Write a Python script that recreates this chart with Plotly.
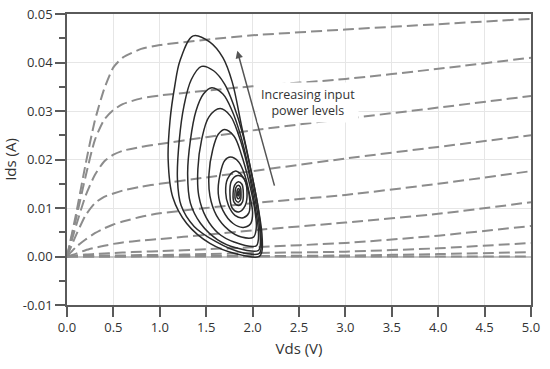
import plotly.graph_objects as go

# ---- I-V family (dashed gray) ----
vds = [0.0, 0.1, 0.2, 0.3, 0.4, 0.5, 0.6, 0.8, 1.0, 1.5, 2.0, 3.0, 4.0, 5.0]
iv_A = [0, 0.0090, 0.0190, 0.0280, 0.0345, 0.0390, 0.0410, 0.0428, 0.0436, 0.0447, 0.0456, 0.0468, 0.0479, 0.0490]
iv_B = [0, 0.0080, 0.0165, 0.0240, 0.0282, 0.0302, 0.0314, 0.0326, 0.0332, 0.0342, 0.0351, 0.0366, 0.0387, 0.0410]
iv_C = [0, 0.0065, 0.0125, 0.0168, 0.0196, 0.0210, 0.0218, 0.0226, 0.0232, 0.0246, 0.0260, 0.0284, 0.0307, 0.0331]
iv_D = [0, 0.0045, 0.0085, 0.0110, 0.0123, 0.0130, 0.0136, 0.0144, 0.0150, 0.0163, 0.0176, 0.0202, 0.0226, 0.0250]
iv_E = [0, 0.0020, 0.0035, 0.0048, 0.0058, 0.0066, 0.0072, 0.0082, 0.0089, 0.0100, 0.0110, 0.0127, 0.0150, 0.0176]
iv_F = [0, 0.0006, 0.0013, 0.0018, 0.0022, 0.0026, 0.0029, 0.0033, 0.0036, 0.0045, 0.0054, 0.0070, 0.0088, 0.0112]
iv_G = [0, 0.0002, 0.0004, 0.0005, 0.0006, 0.0007, 0.0008, 0.0010, 0.0011, 0.0015, 0.0019, 0.0028, 0.0043, 0.0063]
iv_H = [0, 0.0001, 0.0001, 0.0002, 0.0002, 0.0002, 0.0002, 0.0003, 0.0003, 0.0005, 0.0007, 0.0010, 0.0017, 0.0028]
iv_I = [0, 0.0000, 0.0000, 0.0000, 0.0000, 0.0000, 0.0000, 0.0001, 0.0001, 0.0001, 0.0001, 0.0002, 0.0005, 0.0009]
iv_J = [0, 0, 0, 0, 0, 0, 0, 0, 0, 0, 0, 0, 0, 0]
iv_curves = [iv_A, iv_B, iv_C, iv_D, iv_E, iv_F, iv_G, iv_H, iv_I, iv_J]

# ---- dynamic load loops (black) ----
loop1_x = [2.07, 1.83, 1.54, 1.29, 1.14, 1.09, 1.11, 1.16, 1.22, 1.36, 1.54, 1.68, 1.78, 1.88, 1.99, 2.06, 2.10, 2.10, 2.07]
loop1_y = [0.0000, 0.0005, 0.0027, 0.0068, 0.0122, 0.0200, 0.0280, 0.0350, 0.0405, 0.0455, 0.0442, 0.0410, 0.0360, 0.0270, 0.0171, 0.0101, 0.0048, 0.0010, 0.0000]
loop2_x = [2.07, 1.85, 1.61, 1.37, 1.23, 1.19, 1.21, 1.26, 1.34, 1.45, 1.58, 1.70, 1.80, 1.89, 1.99, 2.06, 2.09, 2.09, 2.07]
loop2_y = [0.0006, 0.0010, 0.0030, 0.0062, 0.0105, 0.0160, 0.0240, 0.0310, 0.0365, 0.0392, 0.0383, 0.0355, 0.0310, 0.0255, 0.0170, 0.0100, 0.0048, 0.0015, 0.0006]
loop3_x = [2.06, 1.82, 1.62, 1.44, 1.33, 1.30, 1.33, 1.39, 1.47, 1.56, 1.68, 1.78, 1.87, 1.96, 2.04, 2.08, 2.08, 2.06]
loop3_y = [0.0012, 0.0018, 0.0035, 0.0068, 0.0110, 0.0170, 0.0240, 0.0300, 0.0335, 0.0348, 0.0335, 0.0300, 0.0250, 0.0180, 0.0105, 0.0050, 0.0020, 0.0012]
loop4_x = [2.04, 1.80, 1.63, 1.50, 1.42, 1.41, 1.45, 1.53, 1.65, 1.76, 1.85, 1.94, 2.02, 2.06, 2.06, 2.04]
loop4_y = [0.0022, 0.0030, 0.0048, 0.0080, 0.0125, 0.0180, 0.0240, 0.0288, 0.0305, 0.0290, 0.0250, 0.0190, 0.0110, 0.0060, 0.0032, 0.0022]
loop5_x = [2.01, 1.88, 1.74, 1.61, 1.54, 1.53, 1.57, 1.63, 1.70, 1.80, 1.88, 1.96, 2.02, 2.04, 2.01]
loop5_y = [0.0040, 0.0040, 0.0055, 0.0085, 0.0125, 0.0170, 0.0220, 0.0252, 0.0262, 0.0248, 0.0210, 0.0155, 0.0100, 0.0060, 0.0040]
loop6_x = [1.98, 1.90, 1.79, 1.68, 1.63, 1.65, 1.70, 1.76, 1.85, 1.92, 1.97, 2.00, 1.98]
loop6_y = [0.0068, 0.0060, 0.0068, 0.0095, 0.0130, 0.0170, 0.0198, 0.0205, 0.0195, 0.0165, 0.0125, 0.0090, 0.0068]
loop7_x = [1.96, 1.90, 1.81, 1.74, 1.71, 1.73, 1.81, 1.88, 1.94, 1.97, 1.96]
loop7_y = [0.0090, 0.0080, 0.0085, 0.0105, 0.0132, 0.0160, 0.0176, 0.0168, 0.0145, 0.0115, 0.0090]
loop8_x = [1.85, 1.78, 1.756, 1.77, 1.84, 1.91, 1.94, 1.92, 1.85]
loop8_y = [0.0092, 0.0100, 0.0128, 0.0155, 0.0167, 0.0160, 0.0132, 0.0105, 0.0092]
loop9_x = [1.85, 1.80, 1.79, 1.81, 1.845, 1.885, 1.90, 1.89, 1.85]
loop9_y = [0.0105, 0.0112, 0.0130, 0.0148, 0.0154, 0.0149, 0.0130, 0.0112, 0.0105]
loop10_x = [1.845, 1.815, 1.81, 1.82, 1.845, 1.868, 1.875, 1.87, 1.845]
loop10_y = [0.0112, 0.0117, 0.0130, 0.0142, 0.0147, 0.0143, 0.0130, 0.0117, 0.0112]
loop11_x = [1.848, 1.832, 1.83, 1.835, 1.848, 1.86, 1.865, 1.862, 1.848]
loop11_y = [0.0119, 0.0122, 0.0130, 0.0137, 0.0140, 0.0137, 0.0130, 0.0122, 0.0119]
loop12_x = [1.846, 1.839, 1.838, 1.841, 1.847, 1.853, 1.855, 1.852, 1.846]
loop12_y = [0.0125, 0.0127, 0.0130, 0.0133, 0.0135, 0.0133, 0.0130, 0.0127, 0.0125]
loops = [(loop1_x, loop1_y), (loop2_x, loop2_y), (loop3_x, loop3_y), (loop4_x, loop4_y),
         (loop5_x, loop5_y), (loop6_x, loop6_y), (loop7_x, loop7_y), (loop8_x, loop8_y),
         (loop9_x, loop9_y), (loop10_x, loop10_y), (loop11_x, loop11_y), (loop12_x, loop12_y)]

x_ticks = [0, 0.5, 1.0, 1.5, 2.0, 2.5, 3.0, 3.5, 4.0, 4.5, 5.0]
x_labels = ["0.0", "0.5", "1.0", "1.5", "2.0", "2.5", "3.0", "3.5", "4.0", "4.5", "5.0"]
y_ticks = [-0.01, 0.0, 0.01, 0.02, 0.03, 0.04, 0.05]
y_labels = ["-0.01", "0.00", "0.01", "0.02", "0.03", "0.04", "0.05"]

arrow_tail = (2.24, 0.0143)
arrow_tip = (1.835, 0.0424)
label_pos = (2.60, 0.0317)

FONT = "Open Sans"
AX = "#5a5a5a"

fig = go.Figure()
for c in iv_curves:
    fig.add_trace(go.Scatter(x=vds, y=c, mode="lines",
                             line=dict(color="#8c8c8c", width=2, dash="11px,5px", shape="spline", smoothing=0.6),
                             hoverinfo="skip", showlegend=False))
for lx, ly in loops:
    fig.add_trace(go.Scatter(x=lx, y=ly, mode="lines",
                             line=dict(color="#2a2a2a", width=1.5, shape="spline", smoothing=1.0),
                             hoverinfo="skip", showlegend=False))

fig.add_annotation(x=arrow_tip[0], y=arrow_tip[1], ax=arrow_tail[0], ay=arrow_tail[1],
                   xref="x", yref="y", axref="x", ayref="y", text="", showarrow=True,
                   arrowhead=2, arrowsize=1, arrowwidth=1.5, arrowcolor="#555555")
fig.add_annotation(x=label_pos[0], y=label_pos[1], xref="x", yref="y",
                   text="Increasing input<br>power levels", showarrow=False,
                   bgcolor="white", borderpad=3,
                   font=dict(family=FONT, size=12.5, color="#333333"))

fig.update_layout(
    width=550, height=369,
    margin=dict(l=67, r=19, t=14, b=64, autoexpand=False),
    paper_bgcolor="white", plot_bgcolor="white",
    font=dict(family=FONT, size=13, color="#333333"),
    xaxis=dict(range=[0, 5], tickvals=x_ticks, ticktext=x_labels, automargin=False,
               showgrid=True, gridcolor="#e6e6e6", gridwidth=1,
               showline=True, linecolor=AX, linewidth=1.5, mirror=True,
               ticks="outside", ticklen=10, tickwidth=1.5, tickcolor=AX,
               zeroline=False,
               title=dict(text="Vds (V)", font=dict(size=15), standoff=8)),
    yaxis=dict(range=[-0.01, 0.05], tickvals=y_ticks, ticktext=y_labels, automargin=False,
               showgrid=True, gridcolor="#e6e6e6", gridwidth=1,
               showline=True, linecolor=AX, linewidth=1.5, mirror=True,
               ticks="outside", ticklen=10, tickwidth=1.5, tickcolor=AX,
               minor=dict(dtick=0.005, ticks="outside", ticklen=6, tickwidth=1.5, tickcolor=AX, showgrid=False),
               zeroline=True, zerolinecolor="#c4c4c4", zerolinewidth=1.5,
               title=dict(text="Ids (A)", font=dict(size=15), standoff=6)),
)

fig.write_html("out.html", config={"displayModeBar": False},
               post_script="document.body.style.margin='0px';document.body.style.overflow='hidden';")
